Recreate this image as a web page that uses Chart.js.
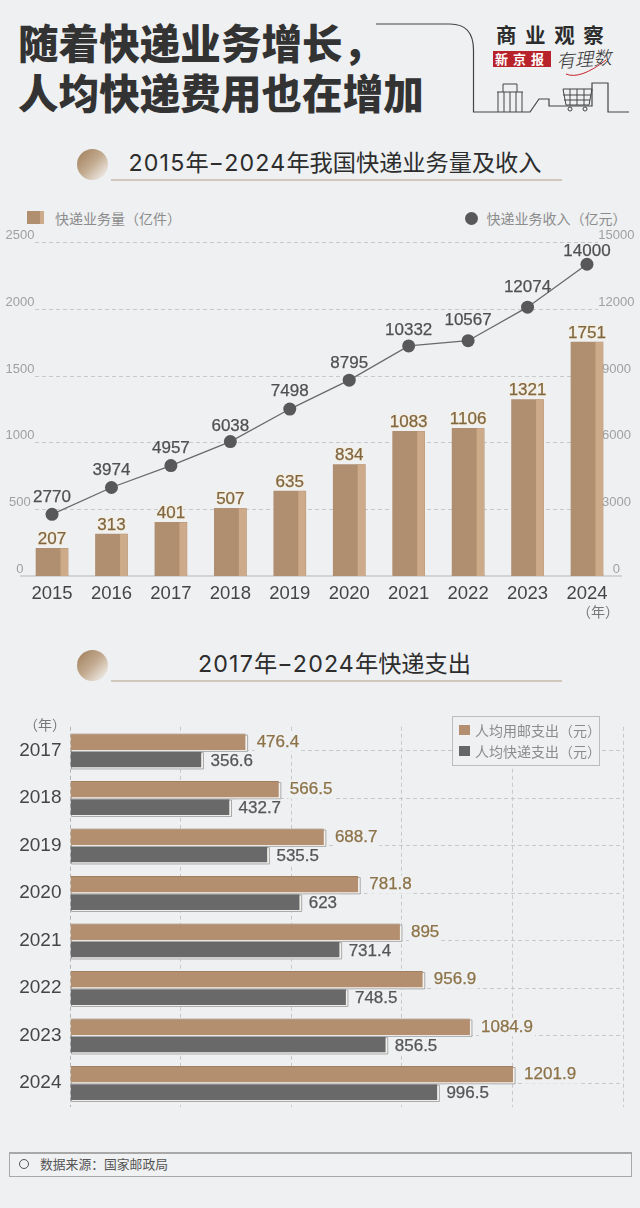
<!DOCTYPE html>
<html lang="zh-CN">
<head>
<meta charset="utf-8">
<title>随着快递业务增长，人均快递费用也在增加</title>
<script src="https://cdn.jsdelivr.net/npm/chart.js@4/dist/chart.umd.min.js"></script>
<style>
  html, body { margin: 0; padding: 0; background: #eef0f2; }
  body { position: relative; width: 640px; height: 1208px; overflow: hidden; font-family: "Liberation Sans", "Noto Sans CJK SC", sans-serif; text-spacing-trim: space-all; }
  .abs { position: absolute; white-space: nowrap; }
  canvas { position: absolute; left: 0; }
  .headline { left: 18px; font: 900 40.6px/50px "Noto Sans CJK SC", sans-serif; color: #333; }
  .section { font-family: Inter, "Noto Sans CJK SC", sans-serif; font-size: 23.2px; line-height: 30px; color: #2d2d2d; }
  .section b { font-weight: 400; letter-spacing: 1.15px; }
  .rule { height: 2px; left: 111px; width: 451px; background: #cfc8bb; }
  .dot { width: 31px; height: 31px; left: 77px; border-radius: 50%; background: linear-gradient(135deg, #a98a68 15%, #c4ac92 50%, #f0eeeb 92%); }
  .legend-text { font: 14px/18px "Noto Sans CJK SC", sans-serif; color: #8c8c8c; }
  .legend-box { left: 452px; top: 716px; width: 146px; height: 48px; border: 1.5px solid #bcbcbc; background: #eef0f2; }
  .swatch { width: 11px; height: 10px; }
  .source { left: 9px; top: 1152px; width: 621px; height: 22px; border: 1px solid #a8a8a8; border-top-width: 2px; background: #f0f1f3; }
</style>
</head>
<body>

<div class="abs headline" style="top:17px">随着快递业务增长，</div>
<div class="abs headline" style="top:67px">人均快递费用也在增加</div>

<svg class="abs" style="left:0;top:0" width="640" height="125" fill="none" stroke="#444" stroke-width="1.2">
  <path d="M376 24H450Q473.5 24 473.5 50V112H530L539 99H549V106H592V83H608V112H629"/>
  <!-- suitcase -->
  <path d="M497 92H523M498 92V112M522 92V112M504 92V112M510 92V112M516 92V112M503 92V84H517V92" stroke-width="1"/>
  <!-- cart -->
  <path d="M563 89H592L589 105H566ZM563 95H591M564 100H590M570 89V105M577 89V105M584 89V105" stroke-width="1"/>
  <circle cx="570" cy="109" r="2" stroke-width="1"/><circle cx="585" cy="109" r="2" stroke-width="1"/>
  <path d="M566 74Q580 80 606 60" stroke="#c8242b" stroke-width="1"/>
</svg>
<div class="abs" style="left:496px;top:21px;font:700 20.5px/26px 'Noto Sans CJK SC',sans-serif;letter-spacing:8.6px;color:#2c2c2c">商业观察</div>
<div class="abs" style="left:493px;top:51px;width:58px;height:16px;background:#b8232b;color:#fff;font:700 13px/16px 'Noto Sans CJK SC',sans-serif;letter-spacing:5px;text-align:center">新京报</div>
<div class="abs" style="left:556px;top:45px;font:italic 300 18.5px/26px 'Noto Sans CJK SC',sans-serif;color:#333;transform:rotate(-4deg)">有理数</div>

<div class="abs dot" style="top:149px"></div>
<div class="abs section" style="left:128.5px;top:148px"><b>2015</b>年<b>−2024</b>年我国快递业务量及收入</div>
<div class="abs rule" style="top:179px"></div>

<div class="abs" style="left:27px;top:211px;width:13px;height:13px;background:#b08f70"></div>
<div class="abs" style="left:40px;top:211px;width:4px;height:13px;background:#cdaa89"></div>
<div class="abs legend-text" style="left:55px;top:209px">快递业务量（亿件）</div>
<div class="abs" style="left:465px;top:211.5px;width:13px;height:13px;border-radius:50%;background:#58585a"></div>
<div class="abs legend-text" style="left:486.5px;top:209px">快递业务收入（亿元）</div>

<canvas id="volumeChart" width="640" height="400" style="top:226px"></canvas>
<div class="abs" style="left:577px;top:602px;font:14px/18px 'Noto Sans CJK SC',sans-serif;color:#777">（年）</div>

<div class="abs dot" style="top:650px"></div>
<div class="abs section" style="left:198px;top:649px"><b>2017</b>年<b>−2024</b>年快递支出</div>
<div class="abs rule" style="top:680px"></div>

<canvas id="spendChart" width="640" height="420" style="top:700px"></canvas>
<div class="abs" style="left:24px;top:715px;font:14px/18px 'Noto Sans CJK SC',sans-serif;color:#777">（年）</div>

<div class="abs legend-box"></div>
<div class="abs swatch" style="left:459px;top:725px;background:#b38f6f"></div>
<div class="abs swatch" style="left:459px;top:746px;background:#666"></div>
<div class="abs legend-text" style="left:475px;top:721px">人均用邮支出（元）</div>
<div class="abs legend-text" style="left:475px;top:742px">人均快递支出（元）</div>

<div class="abs source"></div>
<div class="abs" style="left:19px;top:1159px;width:8px;height:8px;border:1px solid #555;border-radius:50%"></div>
<div class="abs" style="left:40px;top:1155px;font:12.8px/18px 'Noto Sans CJK SC',sans-serif;color:#555">数据来源：国家邮政局</div>

<script>
const years = ['2015', '2016', '2017', '2018', '2019', '2020', '2021', '2022', '2023', '2024'];
const volume = [207, 313, 401, 507, 635, 834, 1083, 1106, 1321, 1751];
const revenue = [2770, 3974, 4957, 6038, 7498, 8795, 10332, 10567, 12074, 14000];
const volumeTicks = [0, 500, 1000, 1500, 2000, 2500];
const revenueTicks = [0, 3000, 6000, 9000, 12000, 15000];

const spendYears = ['2017', '2018', '2019', '2020', '2021', '2022', '2023', '2024'];
const postalSpend = [476.4, 566.5, 688.7, 781.8, 895, 956.9, 1084.9, 1201.9];
const expressSpend = [356.6, 432.7, 535.5, 623, 731.4, 748.5, 856.5, 996.5];
const spendTicks = [0, 300, 600, 900, 1200, 1500];

const FONT = '"Liberation Sans", "Noto Sans CJK SC", sans-serif';
const BG = '#eef0f2';
const DASH = '#c9c9c9';

// labels on the revenue line do not all sit at the same height above the dot
const lineLabelLift = [17, 17, 17, 15, 18, 17, 16, 20, 20, 13];

// fixed axis box, and no extra room for the labels: the layout would add it to the plot margins
function fixBox(scale, size) {
  if (scale.isHorizontal()) scale.height = size;
  else scale.width = size;
  scale.paddingTop = scale.paddingBottom = scale.paddingLeft = scale.paddingRight = 0;
}

// slightly heavier than regular, the digits in the picture are between regular and bold
function heavyText(ctx, text, x, y, color) {
  ctx.lineWidth = 0.25;
  ctx.strokeStyle = color;
  ctx.fillStyle = color;
  ctx.strokeText(text, x, y);
  ctx.fillText(text, x, y);
}

const volumeDecor = {
  id: 'volumeDecor',
  beforeDatasetsDraw(chart) {
    const { ctx, scales } = chart;
    ctx.save();
    ctx.strokeStyle = DASH;
    ctx.lineWidth = 1;
    ctx.setLineDash([4, 3]);
    volumeTicks.slice(1).forEach(v => {
      const y = Math.round(scales.left.getPixelForValue(v)) + 0.5;
      ctx.beginPath();
      ctx.moveTo(35, y);
      ctx.lineTo(598, y);
      ctx.stroke();
    });
    ctx.setLineDash([]);
    ctx.strokeStyle = '#b5b5b5';
    ctx.lineWidth = 1.2;
    const y0 = scales.left.getPixelForValue(0);
    ctx.beginPath();
    ctx.moveTo(20, y0);
    ctx.lineTo(622, y0);
    ctx.stroke();
    ctx.restore();
  },
  afterDatasetDraw(chart, args) {
    if (args.index !== 0) return;
    const { ctx } = chart;
    // lighter strip on the right of every column
    ctx.save();
    ctx.fillStyle = '#cdaa89';
    args.meta.data.forEach(bar => {
      ctx.fillRect(bar.x + bar.width / 2 - 7.5, bar.y, 7.5, bar.base - bar.y);
    });
    ctx.restore();
  },
  afterDatasetsDraw(chart) {
    const { ctx } = chart;
    ctx.save();
    ctx.textAlign = 'center';
    ctx.textBaseline = 'middle';
    ctx.font = '17px ' + FONT;
    ctx.lineJoin = 'round';
    chart.getDatasetMeta(0).data.forEach((bar, i) => {
      ctx.lineWidth = 3;
      ctx.strokeStyle = '#f4efe4';
      ctx.strokeText(volume[i], bar.x, bar.y - 9);
      heavyText(ctx, volume[i], bar.x, bar.y - 9, '#80663f');
    });
    chart.getDatasetMeta(1).data.forEach((pt, i) => {
      heavyText(ctx, revenue[i], pt.x, pt.y - lineLabelLift[i], '#505052');
    });
    ctx.restore();
  }
};

new Chart(document.getElementById('volumeChart'), {
  data: {
    labels: years,
    datasets: [
      { type: 'bar', label: '快递业务量（亿件）', data: volume, yAxisID: 'left', backgroundColor: '#b08f70', barThickness: 32, order: 2 },
      { type: 'line', label: '快递业务收入（亿元）', data: revenue, yAxisID: 'right', borderColor: '#6a6a6a', borderWidth: 1.3, tension: 0, pointRadius: 6.5, pointBackgroundColor: '#58585a', pointBorderWidth: 0, order: 1 }
    ]
  },
  options: {
    responsive: false,
    animation: false,
    layout: { padding: { top: 16 }, autoPadding: false },
    plugins: { legend: { display: false }, tooltip: { enabled: false } },
    scales: {
      x: {
        grid: { display: false, drawTicks: false },
        border: { display: false },
        ticks: { color: '#454545', font: { family: FONT, size: 18.5 }, padding: 6.5, maxRotation: 0 },
        afterFit(s) { fixBox(s, 50); }
      },
      left: {
        position: 'left', min: 0, max: 2500,
        grid: { display: false, drawTicks: false },
        border: { display: false },
        afterBuildTicks(s) { s.ticks = volumeTicks.map(value => ({ value })); },
        ticks: { color: '#a0a0a0', font: { family: FONT, size: 13, lineHeight: 1 }, mirror: true, crossAlign: 'center', padding: -16.8, callback: v => [String(v), ''] },
        afterFit(s) { fixBox(s, 22.3); }
      },
      right: {
        position: 'right', min: 0, max: 15000,
        grid: { display: false, drawTicks: false },
        border: { display: false },
        afterBuildTicks(s) { s.ticks = revenueTicks.map(value => ({ value })); },
        ticks: { color: '#a0a0a0', font: { family: FONT, size: 13, lineHeight: 1 }, mirror: true, crossAlign: 'center', padding: 17.8, callback: v => [String(v), ''] },
        afterFit(s) { fixBox(s, 23.3); }
      }
    }
  },
  plugins: [volumeDecor]
});

const spendDecor = {
  id: 'spendDecor',
  beforeDatasetDraw(chart, args) {
    const { ctx } = chart;
    // pale offset plate behind the bars
    ctx.save();
    ctx.fillStyle = '#f3f2ef';
    ctx.strokeStyle = '#a9a9a9';
    ctx.lineWidth = 1;
    args.meta.data.forEach(bar => {
      const h = bar.height;
      ctx.beginPath();
      ctx.rect(bar.base + 1, bar.y - h / 2 + 1.5, bar.x - bar.base + 1, h);
      ctx.fill();
      ctx.stroke();
    });
    ctx.restore();
  },
  afterDatasetsDraw(chart) {
    const { ctx } = chart;
    ctx.save();
    ctx.textAlign = 'left';
    ctx.textBaseline = 'middle';
    ctx.font = '17px ' + FONT;
    const put = (idx, values, color, gap, lift) => {
      chart.getDatasetMeta(idx).data.forEach((bar, i) => {
        const text = String(values[i]);
        const w = ctx.measureText(text).width;
        ctx.fillStyle = BG;
        ctx.fillRect(bar.x + gap - 2, bar.y + lift - 9, w + 4, 18);
        heavyText(ctx, text, bar.x + gap, bar.y + lift, color);
      });
    };
    put(0, postalSpend, '#8c7246', 11, 0.5);
    put(1, expressSpend, '#555557', 9, 2);
    ctx.restore();
  }
};

new Chart(document.getElementById('spendChart'), {
  type: 'bar',
  data: {
    labels: spendYears,
    datasets: [
      { label: '人均用邮支出（元）', data: postalSpend, backgroundColor: '#b38f6f', borderColor: '#a07e60', borderWidth: { top: 1 }, categoryPercentage: 0.74, barPercentage: 0.93 },
      { label: '人均快递支出（元）', data: expressSpend, backgroundColor: '#69696a', borderColor: '#555', borderWidth: { top: 1 }, categoryPercentage: 0.74, barPercentage: 0.93 }
    ]
  },
  options: {
    indexAxis: 'y',
    responsive: false,
    animation: false,
    layout: { padding: { top: 26.75, right: 17 }, autoPadding: false },
    plugins: { legend: { display: false }, tooltip: { enabled: false } },
    scales: {
      x: {
        min: 0, max: 1500,
        afterBuildTicks(s) { s.ticks = spendTicks.map(value => ({ value })); },
        grid: { color: c => c.tick.value === 0 ? '#b5b5b5' : DASH, drawTicks: false },
        border: { display: false, dash: [4, 3] },
        ticks: { display: false },
        afterFit(s) { fixBox(s, 13.25); }
      },
      y: {
        grid: { color: DASH, offset: false, drawTicks: false },
        border: { display: false, dash: [4, 3] },
        ticks: { color: '#454545', font: { family: FONT, size: 19 }, padding: 8.5 },
        afterFit(s) { fixBox(s, 70); }
      }
    }
  },
  plugins: [spendDecor]
});
</script>
</body>
</html>
